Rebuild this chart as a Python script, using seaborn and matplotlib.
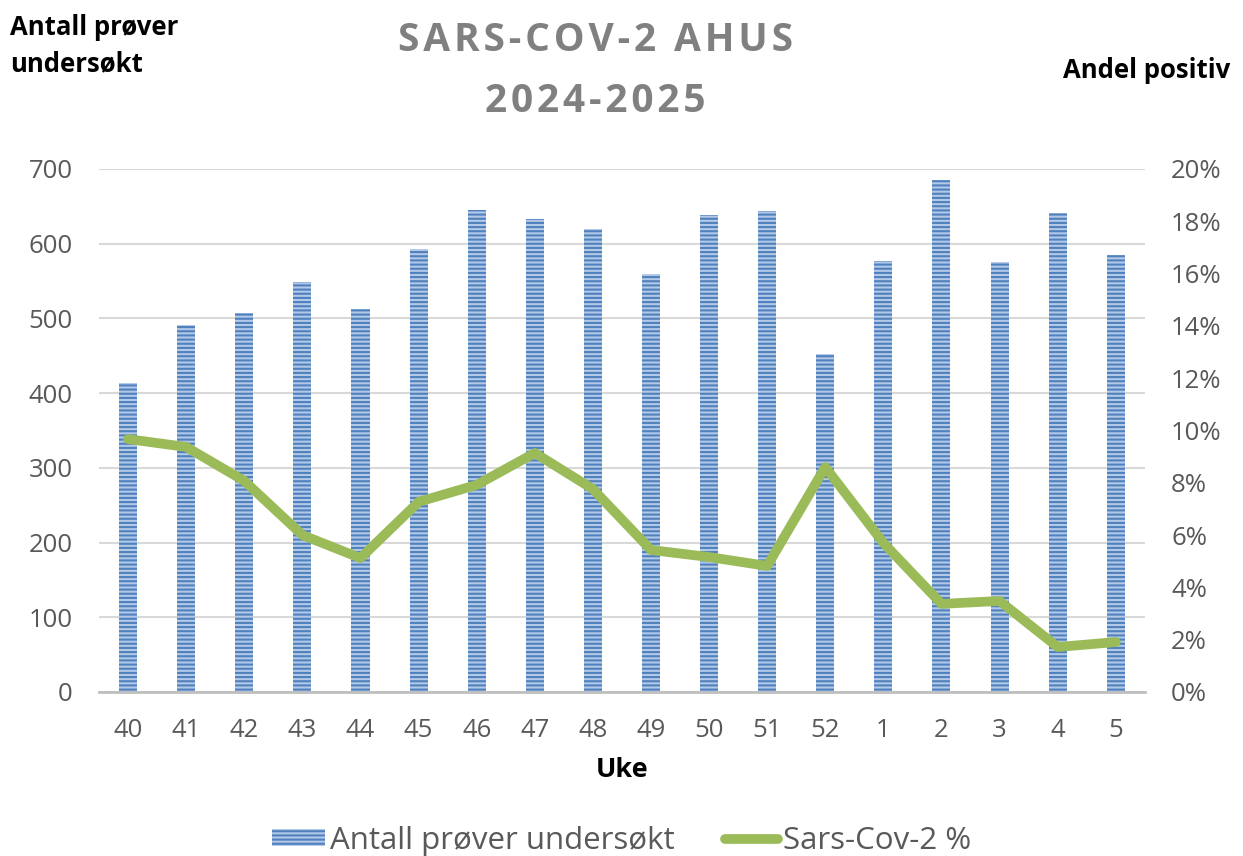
import pandas as pd
import matplotlib
matplotlib.use('Agg')
import matplotlib.pyplot as plt
import seaborn as sns
from matplotlib.ticker import PercentFormatter

# -------------------------
# Data
# -------------------------
weeks = ["40", "41", "42", "43", "44", "45", "46", "47", "48", "49",
         "50", "51", "52", "1", "2", "3", "4", "5"]
samples = [413, 491, 507, 549, 513, 593, 645, 633, 620, 559,
           638, 644, 452, 577, 685, 575, 641, 585]
pct_positive = [9.67, 9.37, 8.07, 6.0, 5.12, 7.27, 7.92, 9.14, 7.76, 5.43,
                5.16, 4.82, 8.6, 5.7, 3.37, 3.48, 1.72, 1.91]

BAR_FACE = "#b4c9e8"
BAR_EDGE = "#4f81bd"
LINE_COLOR = "#9bbb59"
TICK_COLOR = "#595959"
HATCH = "----"

df = pd.DataFrame({"Uke": weeks, "Antall": samples, "Pct": pct_positive})

sns.set_theme(style="white")
plt.rcParams['font.family'] = ['Open Sans', 'DejaVu Sans']
plt.rcParams['hatch.linewidth'] = 1.5
plt.rcParams['hatch.color'] = BAR_EDGE

fig = plt.figure(figsize=(12.43, 8.56), dpi=100)
ax = fig.add_axes([0.0797, 0.1916, 0.8413, 0.611])

sns.barplot(data=df, x="Uke", y="Antall", order=weeks, ax=ax,
            color=BAR_FACE, width=0.31, saturation=1)
for bar in ax.patches:
    bar.set_hatch(HATCH)
    bar.set_edgecolor(BAR_EDGE)
    bar.set_linewidth(0)

ax.set_ylim(0, 700)
ax.set_yticks(range(0, 701, 100))
ax.yaxis.grid(True, color="#d9d9d9", linewidth=1.5)
ax.set_axisbelow(True)
for s in ["top", "left", "right"]:
    ax.spines[s].set_visible(False)
ax.spines["bottom"].set_color("#bfbfbf")
ax.spines["bottom"].set_linewidth(2)
ax.tick_params(axis="y", colors=TICK_COLOR, labelsize=18.5, length=0, pad=19)
ax.tick_params(axis="x", colors=TICK_COLOR, labelsize=18.5, length=0, pad=19)
ax.set_xlabel("Uke", fontsize=19.5, fontweight="bold", color="black", labelpad=10)
ax.set_ylabel("")

ax2 = ax.twinx()
sns.pointplot(data=df, x="Uke", y="Pct", order=weeks, ax=ax2,
              color=LINE_COLOR, markers="", linewidth=7)
for ln in ax2.lines:
    ln.set_solid_capstyle("round")
    ln.set_solid_joinstyle("round")
ax2.set_ylim(0, 20)
ax2.set_yticks(range(0, 21, 2))
ax2.yaxis.set_major_formatter(PercentFormatter(decimals=0))
for s in ["top", "left", "right", "bottom"]:
    ax2.spines[s].set_visible(False)
ax2.tick_params(axis="y", colors=TICK_COLOR, labelsize=18.5, length=0, pad=19)
ax2.set_ylabel("")
ax2.set_xlabel("")
ax.set_xlim(-0.5, len(weeks) - 0.5)
ax2.set_xlim(-0.5, len(weeks) - 0.5)

# Titles and axis captions (hair spaces give the wide letter spacing)
title = "\n".join("\u200a".join(line) for line in ["SARS-COV-2 AHUS", "2024-2025"])
fig.text(0.479, 0.976, title, ha="center", va="top",
         fontsize=28, fontweight="bold", color="#808080", linespacing=1.75)
fig.text(0.008, 0.984, "Antall prøver\nundersøkt", ha="left", va="top",
         fontsize=18.5, fontweight="bold", color="black", linespacing=1.45)
fig.text(0.99, 0.918, "Andel positiv", ha="right", va="center",
         fontsize=18.5, fontweight="bold", color="black")

# Legend
bar_handle = matplotlib.patches.Patch(facecolor=BAR_FACE, edgecolor=BAR_EDGE,
                                      hatch=HATCH, linewidth=0)
line_handle = matplotlib.lines.Line2D([], [], color=LINE_COLOR, linewidth=7,
                                      solid_capstyle="round")
leg = fig.legend([bar_handle, line_handle],
                 ["Antall prøver undersøkt", "Sars-Cov-2 %"],
                 loc="center", bbox_to_anchor=(0.5, 0.018), ncol=2,
                 frameon=False, fontsize=22.5, handlelength=1.7,
                 handletextpad=0.15, columnspacing=1.6, handleheight=0.5)
for t in leg.get_texts():
    t.set_color(TICK_COLOR)

fig.savefig("out.png", dpi=100)
plt.close(fig)
